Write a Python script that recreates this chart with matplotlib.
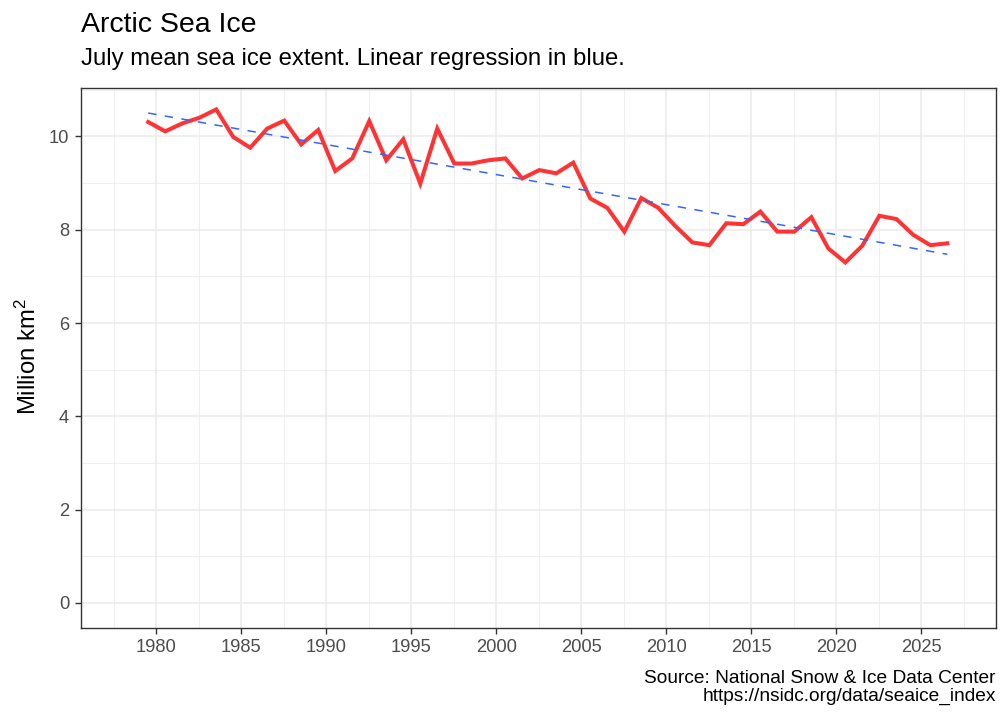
import numpy as np
import matplotlib
matplotlib.use("Agg")
import matplotlib.pyplot as plt
from matplotlib.ticker import MultipleLocator

plt.rcParams['font.family'] = ['Liberation Sans', 'DejaVu Sans']
plt.rcParams['mathtext.fontset'] = 'custom'
plt.rcParams['mathtext.rm'] = 'Liberation Sans'
plt.rcParams['mathtext.it'] = 'Liberation Sans:italic'
plt.rcParams['mathtext.bf'] = 'Liberation Sans:bold'
plt.rcParams['mathtext.default'] = 'regular'

years = list(range(1979, 2027))
extent = [10.31, 10.11, 10.28, 10.40, 10.58, 9.99, 9.76, 10.17, 10.34, 9.83,
          10.14, 9.26, 9.53, 10.33, 9.49, 9.94, 8.99, 10.17, 9.42, 9.42,
          9.49, 9.53, 9.10, 9.28, 9.21, 9.44, 8.67, 8.47, 7.96, 8.68,
          8.47, 8.08, 7.73, 7.67, 8.14, 8.12, 8.39, 7.96, 7.96, 8.27,
          7.60, 7.30, 7.66, 8.30, 8.23, 7.89, 7.67, 7.71]
x_ticks = [1980, 1985, 1990, 1995, 2000, 2005, 2010, 2015, 2020, 2025]
y_ticks = [0, 2, 4, 6, 8, 10]

title = "Arctic Sea Ice"
subtitle = "July mean sea ice extent. Linear regression in blue."
ylabel = r"Million km$^2$"
caption_lines = ["Source: National Snow & Ice Data Center",
                 "https://nsidc.org/data/seaice_index"]

# mid-July decimal dates
xd = np.array(years, dtype=float) + 0.54
yv = np.array(extent)

W, H = 1008, 720
fig = plt.figure(figsize=(W / 100, H / 100), dpi=100)
L, R, T, B = 80.7, 996, 87.5, 627.7
ax = fig.add_axes([L / W, 1 - B / H, (R - L) / W, (B - T) / H])

ax.set_xlim(1975.57, 2029.4)
ax.set_ylim(-0.53, 11.05)

ax.xaxis.set_minor_locator(MultipleLocator(2.5))
ax.yaxis.set_minor_locator(MultipleLocator(1))
ax.set_xticks(x_ticks)
ax.set_yticks(y_ticks)
ax.set_xticklabels([str(v) for v in x_ticks])
ax.set_yticklabels([str(v) for v in y_ticks])

ax.grid(which='major', color='#EBEBEB', linewidth=1.1)
ax.grid(which='minor', color='#EBEBEB', linewidth=0.55)
ax.set_axisbelow(True)

for s in ax.spines.values():
    s.set_color('#333333')
    s.set_linewidth(1.0)

ax.tick_params(which='major', length=4.3, width=1.0, color='#333333',
               labelsize=13.2, labelcolor='#4D4D4D')
ax.tick_params(axis='x', which='major', pad=3.6)
ax.tick_params(axis='y', which='major', pad=4.1)
ax.tick_params(which='minor', length=0)

ax.plot(xd, yv, color='#FF3333', linewidth=2.9, solid_joinstyle='miter', zorder=3)

coef = np.polyfit(xd, yv, 1)
fit = np.polyval(coef, xd)
ln, = ax.plot(xd, fit, color='#3366FF', linewidth=1.1, zorder=4)
ln.set_dashes([5.5, 5.5])

fig.text(28 / W, 1 - 357 / H, ylabel, fontsize=17.2, rotation=90,
         ha='center', va='center', color='black')

fig.text(L / W, 1 - 32 / H, title, fontsize=20.5, ha='left', va='baseline', color='black')
fig.text(L / W, 1 - 65.5 / H, subtitle, fontsize=17.2, ha='left', va='baseline', color='black')
for yb, line in zip([682.7, 700.7], caption_lines):
    fig.text(R / W, 1 - yb / H, line, fontsize=13.8, ha='right', va='baseline',
             color='black')

fig.savefig("out.png", dpi=100)
